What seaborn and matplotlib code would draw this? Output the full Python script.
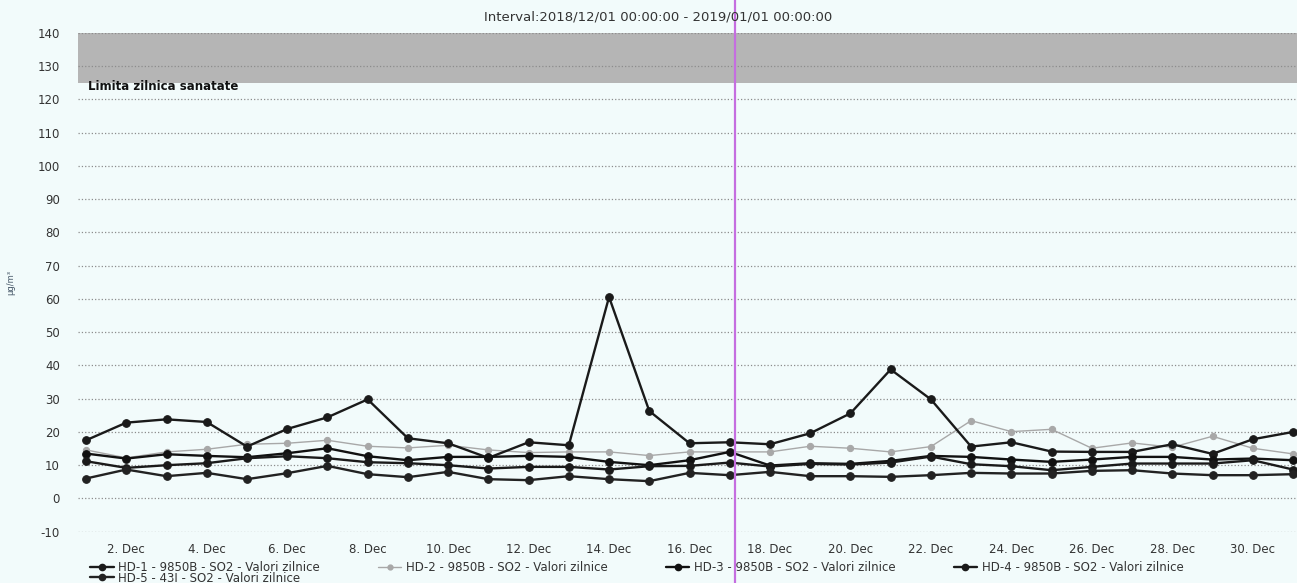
import matplotlib
matplotlib.use('Agg')
import matplotlib.pyplot as plt
from matplotlib.lines import Line2D
import pandas as pd
import seaborn as sns

# daily SO2 values, December 2018
days = list(range(1, 32))
hd1 = [17.5, 22.8, 23.8, 23.0, 15.6, 20.9, 24.4, 29.8, 18.1, 16.6, 12.2, 16.9, 16.0, 60.6, 26.3, 16.6,
       16.9, 16.3, 19.6, 25.6, 38.8, 29.8, 15.6, 16.9, 14.1, 14.0, 14.0, 16.3, 13.4, 17.8, 20.0]
hd2 = [14.6, 12.2, 14.0, 14.8, 16.3, 16.6, 17.5, 15.7, 15.2, 16.0, 14.6, 13.8, 14.0, 14.0, 12.9, 14.0,
       14.0, 14.0, 15.7, 15.1, 14.0, 15.6, 23.4, 20.1, 20.8, 15.1, 16.7, 15.4, 18.7, 15.1, 13.4]
hd3 = [13.5, 12.0, 13.3, 12.8, 12.4, 13.6, 15.1, 12.7, 11.5, 12.5, 12.5, 12.8, 12.5, 11.0, 10.0, 11.5,
       14.0, 9.9, 10.6, 10.4, 11.3, 12.8, 12.5, 11.7, 11.0, 11.7, 12.5, 12.5, 11.7, 12.0, 11.5]
hd4 = [11.2, 9.2, 10.0, 10.6, 12.1, 12.7, 12.1, 10.9, 10.6, 10.0, 9.0, 9.5, 9.5, 8.7, 9.7, 9.8,
       10.8, 9.6, 10.4, 10.2, 10.8, 12.6, 10.3, 9.7, 8.5, 9.5, 10.5, 10.5, 10.5, 11.5, 8.7]
hd5 = [6.0, 8.7, 6.7, 7.7, 5.8, 7.6, 9.8, 7.3, 6.4, 8.0, 5.8, 5.5, 6.7, 5.8, 5.2, 7.7,
       7.0, 8.0, 6.7, 6.7, 6.5, 7.0, 7.7, 7.5, 7.5, 8.3, 8.5, 7.5, 7.0, 7.0, 7.3]

names = ['HD-1 - 9850B - SO2 - Valori zilnice', 'HD-2 - 9850B - SO2 - Valori zilnice',
         'HD-3 - 9850B - SO2 - Valori zilnice', 'HD-4 - 9850B - SO2 - Valori zilnice',
         'HD-5 - 43I - SO2 - Valori zilnice']
colors = ['#1a1a1a', '#a8a8a8', '#111111', '#1a1a1a', '#222222']
tick_days = list(range(2, 31, 2))
tick_labels = [f'{d}. Dec' for d in tick_days]
y_ticks = list(range(-10, 141, 10))
limit_low, limit_high = 125, 140
marker_day = 17.13

bg = '#f2fbfb'
sns.set_theme(style='white')
plt.rcParams['font.family'] = ['DejaVu Sans']
plt.rcParams['axes.unicode_minus'] = False

fig = plt.figure(figsize=(12.97, 5.83), dpi=100)
fig.patch.set_facecolor(bg)
ax = fig.add_axes([78 / 1297, 1 - 531.7 / 583, 1 - 78 / 1297, (531.7 - 33) / 583])
ax.set_facecolor(bg)

# health limit band
ax.axhspan(limit_low, limit_high, color='#b5b5b5', zorder=1, lw=0)
ax.text(0.008, limit_low - 1, 'Limita zilnica sanatate', transform=ax.get_yaxis_transform(),
        fontsize=8.5, fontweight='bold', va='center', ha='left', color='#111111', zorder=3)

df = pd.DataFrame({'day': days * 5,
                   'value': hd1 + hd2 + hd3 + hd4 + hd5,
                   'serie': [n for n in names for _ in days]})

for i, name in enumerate(names):
    sub = df[df['serie'] == name]
    gray = i == 1
    sns.lineplot(data=sub, x='day', y='value', ax=ax, color=colors[i],
                 lw=1.0 if gray else 1.7, marker='o', ms=4.5 if gray else 5.5,
                 mec=colors[i], mfc=colors[i], legend=False, zorder=5 if gray else 6)

ax.set_xlim(0.8, 31.1)
ax.set_ylim(-10, 140)
ax.set_yticks(y_ticks)
ax.set_xticks(tick_days)
ax.set_xticklabels(tick_labels)
ax.tick_params(axis='x', length=0, labelsize=8.5, colors='#333333', pad=8)
ax.tick_params(axis='y', length=0, labelsize=8.5, colors='#333333', pad=13)
ax.grid(axis='y', ls=':', color='#8c8c8c', lw=0.9, zorder=2)
ax.set_axisbelow(False)
for s in ax.spines.values():
    s.set_visible(False)
ax.set_xlabel('')
ax.set_ylabel('µg/m³', fontsize=6, color='#445566', labelpad=16)

# scanner mark
ax.axvline(marker_day, ymin=-0.11, ymax=1.07, color='#c56ee0', lw=1.6, clip_on=False, zorder=8)

fig.text(658 / 1297, 1 - 17 / 583, 'Interval:2018/12/01 00:00:00 - 2019/01/01 00:00:00',
         ha='center', va='center', fontsize=9.5, color='#333333')

# legend in row order: HD-1..HD-4 on the first row, HD-5 below
order = [0, 4, 1, 2, 3]
handles = [Line2D([], [], color=colors[i], lw=1.0 if i == 1 else 1.7, marker='o',
                  ms=3.5 if i == 1 else 4.5) for i in order]
fig.legend(handles, [names[i] for i in order], loc='upper left',
           bbox_to_anchor=(84 / 1297, 1 - 555 / 583),
           ncol=4, frameon=False, fontsize=8.5, labelspacing=-0.2, handlelength=2.0,
           handletextpad=0.4, columnspacing=4.9, borderpad=0, labelcolor='#333333')

fig.savefig('out.png', dpi=100, facecolor=bg)
